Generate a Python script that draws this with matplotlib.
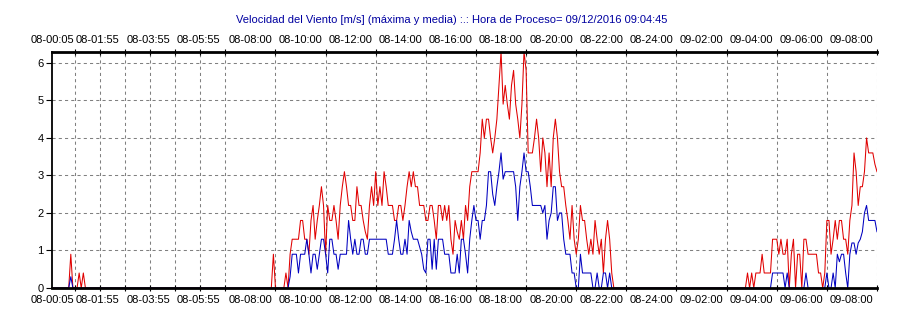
import numpy as np
import pandas as pd
import matplotlib
matplotlib.use("Agg")
from matplotlib import pyplot as plt
from matplotlib.ticker import FixedLocator, MultipleLocator

plt.rcParams["font.family"] = ["Liberation Sans", "DejaVu Sans"]

# wind speed every 5 minutes from 08-00:05 to 09-09:00 (m/s)
start = "2016-12-08 00:05"

red_max = (
    [0] * 9 + [0.9, 0, 0, 0, 0.4, 0, 0.4]
    + [0] * 90
    + [0.9, 0, 0, 0, 0, 0, 0.4, 0, 0.9, 1.3, 1.3, 1.3, 1.3]
    + [1.8, 1.8, 1.3, 1.3, 0.9, 1.8, 2.2, 1.3, 1.8, 2.2, 2.7, 2.2]
    + [0.9, 2.2, 1.8, 1.8, 2.2, 1.8, 1.3, 2.2, 2.7, 3.1, 2.7, 2.2]
    + [2.2, 1.8, 1.8, 2.7, 2.2, 2.2, 1.8, 1.5, 1.3, 2.2, 2.7, 2.2]
    + [3.1, 2.2, 2.7, 2.2, 3.1, 2.7, 2.2, 2.2, 2.2, 1.8, 1.8, 2.2]
    + [2.2, 1.8, 2.2, 2.7, 3.1, 2.7, 3.1, 2.7, 2.7, 2.2, 2.2, 2.2]
    + [1.8, 1.8, 2.2, 2.2, 1.8, 1.3, 2.2, 2.2, 1.8, 2.2, 1.8, 2.2]
    + [1.3, 0.9, 1.8, 1.5, 1.3, 1.8, 1.3, 2.2, 1.8, 2.7, 3.1, 3.1]
    + [3.1, 3.1, 3.6, 4.5, 4.0, 4.5, 4.5, 4.0, 3.6, 4.0, 4.5, 5.4]
    + [6.3, 4.9, 5.4, 4.9, 4.5, 5.4, 5.8, 4.9, 4.5, 4.0, 4.9, 6.3]
    + [5.8, 3.6, 3.6, 3.6, 4.0, 4.5, 4.0, 3.1, 4.0, 3.6, 2.7, 3.6]
    + [2.7, 4.0, 4.5, 4.0, 3.1, 2.7, 2.7, 2.2, 1.8, 1.3, 2.2, 1.3]
    + [0.9, 1.3, 2.2, 1.8, 1.8, 1.3, 0.9, 1.3, 0.9, 1.8, 1.3, 0.9]
    + [1.3, 0.4, 1.3, 1.8, 1.3, 0.4]
    + [0] * 64
    + [0.4, 0, 0.4, 0, 0.4, 0.4, 0.4, 0.9, 0.4, 0.4, 0.4, 0.4]
    + [1.3, 1.3, 1.3, 0.9, 1.3, 0.9, 0.9, 1.3, 0, 0.9, 1.3, 0]
    + [0.9, 0.9, 0, 1.3, 1.3, 0.9, 0.9, 0.9, 0.9, 0.9, 0.4, 0.4]
    + [0, 0.4, 1.8, 1.8, 0.9, 1.3, 1.8, 1.3, 1.8, 1.8, 1.3, 1.3]
    + [0.9, 1.8, 2.2, 3.6, 3.1, 2.2, 2.7, 2.7, 3.1, 4.0, 3.6, 3.6]
    + [3.6, 3.3, 3.1]
)

blue_mean = (
    [0] * 9 + [0.3]
    + [0] * 104
    + [0.3, 0.9, 0.9, 0.9, 0.4]
    + [0.9, 0.9, 0.9, 1.3, 0.9, 0.4, 0.9, 0.9, 0.5, 0.9, 1.3, 1.3]
    + [0.9, 0.4, 1.3, 1.3, 0.9, 0.9, 0.5, 0.9, 0.9, 0.9, 0.9, 1.8]
    + [1.3, 0.9, 1.3, 0.9, 0.9, 1.3, 1.3, 0.9, 0.9, 1.3, 1.3, 1.3]
    + [1.3, 1.3, 1.3, 1.3, 1.3, 1.3, 0.9, 0.9, 0.9, 1.3, 1.8, 1.3]
    + [0.9, 0.9, 1.3, 0.9, 1.8, 1.5, 1.3, 1.3, 1.3, 1.1, 0.9, 0.5]
    + [0.4, 1.3, 1.3, 0.5, 1.3, 0.5, 1.3, 1.3, 1.3, 0.9, 0.9, 0.9]
    + [0.4, 0.4, 0.4, 0.9, 0.4, 1.3, 1.3, 0.9, 0.4, 1.3, 1.8, 2.2]
    + [1.8, 1.8, 1.3, 1.8, 1.8, 2.2, 3.1, 3.1, 2.5, 2.2, 2.7, 3.1]
    + [3.6, 2.9, 3.1, 3.1, 3.1, 3.1, 3.1, 2.7, 1.8, 2.7, 3.1, 3.6]
    + [3.1, 3.1, 2.7, 2.2, 2.2, 2.2, 2.2, 2.2, 2.0, 2.2, 1.3, 1.8]
    + [2.0, 2.7, 2.7, 1.8, 2.0, 2.0, 1.3, 0.9, 0.9, 0.9, 0.4, 0.4]
    + [0, 0, 0.9, 0.4, 0.4, 0.4, 0.4, 0.4, 0, 0, 0.4, 0]
    + [0, 0.4, 0.4, 0, 0.4, 0]
    + [0] * 76
    + [0.4, 0.4, 0.4, 0.4, 0.4, 0.4, 0, 0.4, 0, 0, 0, 0]
    + [0, 0, 0, 0, 0.4, 0, 0, 0, 0, 0, 0, 0]
    + [0, 0, 0.4, 0, 0, 0.4, 0, 0.9, 0.7, 0.9, 0.9, 0.4]
    + [0, 0.9, 1.2, 1.2, 0.9, 1.2, 1.3, 1.5, 2.0, 2.2, 1.8, 1.8]
    + [1.8, 1.8, 1.5]
)

tick_times = [
    "2016-12-08 00:05", "2016-12-08 01:55", "2016-12-08 03:55", "2016-12-08 05:55",
    "2016-12-08 08:00", "2016-12-08 10:00", "2016-12-08 12:00", "2016-12-08 14:00",
    "2016-12-08 16:00", "2016-12-08 18:00", "2016-12-08 20:00", "2016-12-08 22:00",
    "2016-12-09 00:00", "2016-12-09 02:00", "2016-12-09 04:00", "2016-12-09 06:00",
    "2016-12-09 08:00",
]
tick_labels = [
    "08-00:05", "08-01:55", "08-03:55", "08-05:55", "08-08:00", "08-10:00",
    "08-12:00", "08-14:00", "08-16:00", "08-18:00", "08-20:00", "08-22:00",
    "08-24:00", "09-02:00", "09-04:00", "09-06:00", "09-08:00",
]

title = ("Velocidad del Viento [m/s] (máxima y media) :.: "
         "Hora de Proceso= 09/12/2016 09:04:45")

# hours since 08-00:00
t0 = pd.Timestamp("2016-12-08 00:00")
times = pd.date_range(start, periods=len(red_max), freq="5min")
hours = (times - t0) / pd.Timedelta(hours=1)
tick_hours = (pd.to_datetime(tick_times) - t0) / pd.Timedelta(hours=1)

fig = plt.figure(figsize=(9.04, 3.21), dpi=100)
ax = fig.add_axes([52 / 904, 33 / 321, 825 / 904, 236 / 321])

ax.plot(hours, red_max, color="#e00000", lw=0.75, zorder=2)
ax.plot(hours, blue_mean, color="#0000c0", lw=0.75, zorder=2.1)

ax.set_xlim(hours[0], hours[-1])
ax.set_ylim(0, 6.29)

ax.xaxis.set_major_locator(FixedLocator(tick_hours))
ax.set_xticklabels(tick_labels)
ax.xaxis.set_minor_locator(MultipleLocator(1))
ax.set_yticks(range(7))

ax.tick_params(axis="x", which="major", length=0, pad=5, labelsize=8,
               top=True, labeltop=True)
ax.tick_params(axis="x", which="minor", direction="inout", length=5,
               width=0.8, top=True)
ax.tick_params(axis="y", which="major", length=4, width=0.8, pad=2,
               labelsize=8)

ax.grid(True, which="minor", axis="x", color="#808080", lw=0.75,
        linestyle=(0, (3, 3)))
ax.grid(True, which="major", axis="y", color="#808080", lw=0.75,
        linestyle=(0, (3, 3)))

ax.spines["right"].set_visible(False)
ax.spines["top"].set_linewidth(2.0)
ax.spines["bottom"].set_linewidth(2.0)
ax.spines["left"].set_linewidth(1.3)
for s in ax.spines.values():
    s.set_zorder(3)

fig.text(0.5, 1 - 20 / 321, title, ha="center", va="center", fontsize=8,
         color="#0000a0")

fig.savefig("out.png", dpi=100)
